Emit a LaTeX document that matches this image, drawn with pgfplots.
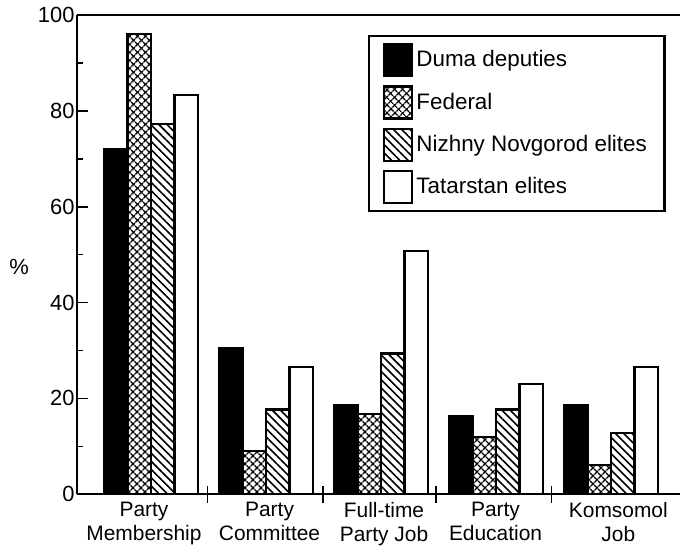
\documentclass[border=0pt]{standalone}
\usepackage{fontspec}
\setmainfont{Liberation Sans}
\usepackage{pgfplots}
\pgfplotsset{compat=1.18}
\usetikzlibrary{patterns.meta}
\newcommand\xtl{\fontsize{21}{24}\selectfont}
\newcommand\ytl{\fontsize{22}{26}\selectfont}
\begin{document}
\fontsize{21}{24}\selectfont
\begin{tikzpicture}
\useasboundingbox (-76.7bp,-53.7bp) rectangle (603.3bp,494.3bp);
\begin{axis}[
  at={(0,0)}, anchor=south west,
  scale only axis, width=603.3bp, height=479.3bp,
  xmin=-0.646, xmax=4.6, ymin=0, ymax=100,
  axis lines*=left,
  axis line style={line width=2.3bp},
  clip=false,
  ybar, bar width=0.205,
  ytick={0,20,...,100}, minor ytick={10,30,...,90},
  tick align=inside, major tick length=11bp, minor tick length=6bp,
  ytick style={line width=1.6bp, black},
  xtick={-0.061,1.031,2.026,2.996,4.064},
  xticklabels={{\xtl Party\\Membership}, {\xtl Party\\Committee}, {\xtl Full-time\\Party Job}, {\xtl Party\\Education}, {\xtl Komsomol\\Job}},
  x tick label style={align=center, font=\xtl, inner sep=0bp, yshift=-8bp},
  yticklabel={\ytl\pgfmathprintnumber{\tick}},
  y tick label style={font=\ytl, inner sep=2bp},
  xtick style={draw=none},
  extra x ticks={0.491,1.496,2.476,3.482},
  extra x tick labels={},
  extra x tick style={xtick style={draw=black, line width=1.6bp}, tick align=center, major tick length=17bp},
  /pgf/number format/assume math mode=true,
  ylabel={\%}, ylabel style={rotate=-90, at={(ticklabel cs:0.474)}, font=\ytl},
  legend style={at={(0.976,0.958)}, anchor=north east, draw=black, line width=2.2bp,
    row sep=8bp, inner xsep=14bp, inner ysep=7bp, font=\fontsize{22.5}{27}\selectfont,
    nodes={inner sep=3.5bp}},
  legend cell align=left,
  legend image code/.code={\draw[#1, line width=2.2bp] (0bp,-16bp) rectangle (28bp,16bp);},
]
\addplot[draw=black, fill=black, line width=2.3bp, bar shift=-0.3075]
  coordinates {(0,72.1) (1,30.4) (2,18.6) (3,16.3) (4,18.6)};
\addlegendentry{Duma deputies}
\addplot[draw=black, line width=2.3bp, bar shift=-0.1025,
  pattern={Lines[angle=45, distance=6bp, line width=1.7bp]},
  postaction={pattern={Lines[angle=-45, distance=6bp, line width=1.7bp]}}]
  coordinates {(0,96) (1,9.1) (2,16.7) (3,11.9) (4,6.1)};
\addlegendentry{Federal}
\addplot[draw=black, line width=2.3bp, bar shift=0.1025,
  pattern={Lines[angle=-45, distance=5.8bp, line width=1.6bp]}]
  coordinates {(0,77.2) (1,17.7) (2,29.4) (3,17.7) (4,12.8)};
\addlegendentry{Nizhny Novgorod elites}
\addplot[draw=black, fill=white, line width=2.3bp, bar shift=0.3075]
  coordinates {(0,83.3) (1,26.5) (2,50.7) (3,23.0) (4,26.5)};
\addlegendentry{Tatarstan elites}
\draw[line width=2.3bp] (rel axis cs:0,1) -- (rel axis cs:1,1);
\end{axis}
\end{tikzpicture}
\end{document}
